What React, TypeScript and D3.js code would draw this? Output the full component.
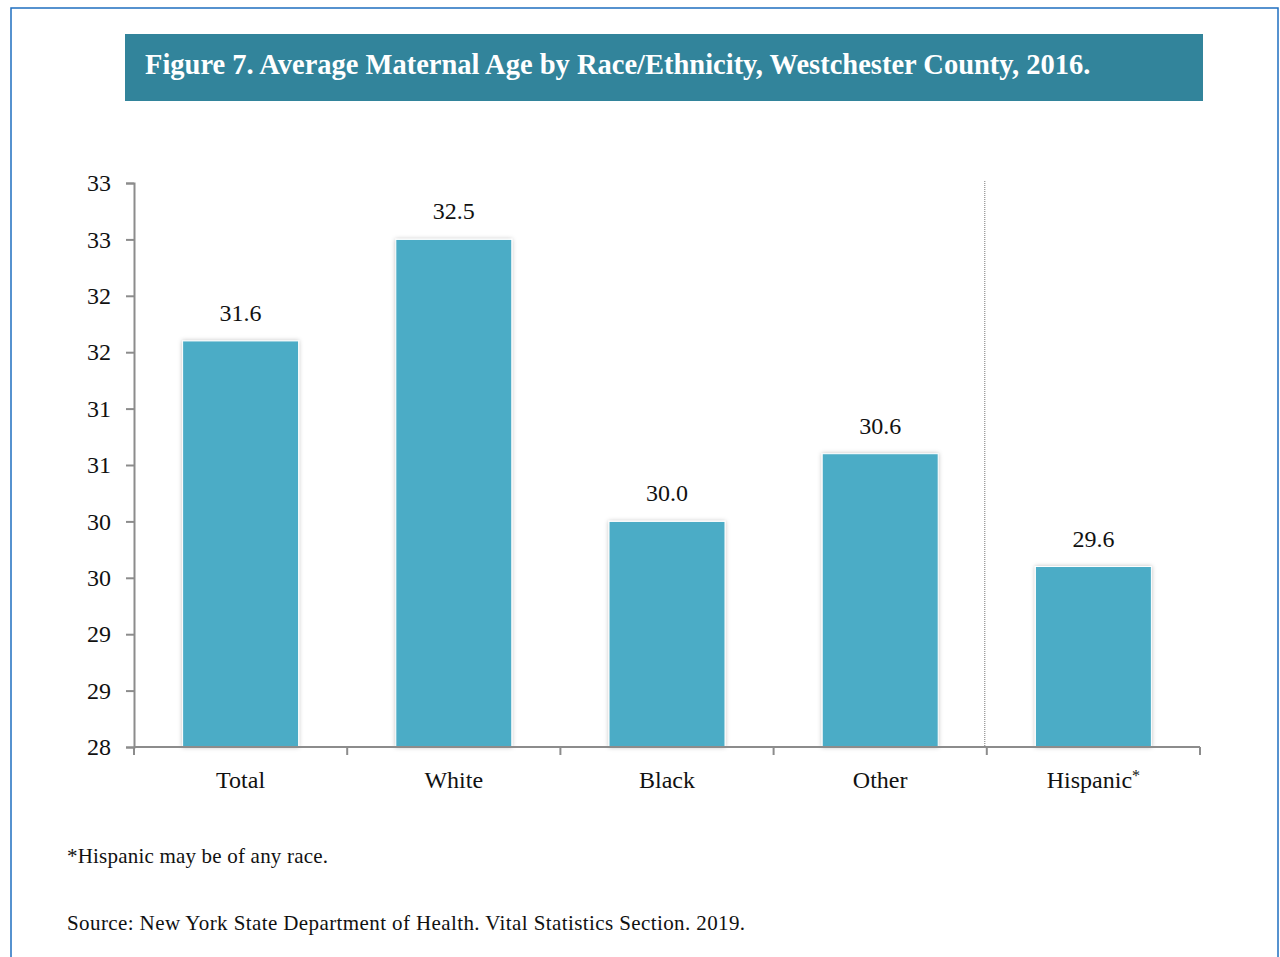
import React, { useRef, useEffect } from "react";
import * as d3 from "d3";

const categories = ["Total", "White", "Black", "Other", "Hispanic*"];
const values = [31.6, 32.5, 30.0, 30.6, 29.6];
const yTicks = [28, 28.5, 29, 29.5, 30, 30.5, 31, 31.5, 32, 32.5, 33];

const W = 1280;
const H = 957;
const plot = { left: 134, right: 1200, top: 183, bottom: 747 };
const font = "'Liberation Serif', 'DejaVu Serif', serif";

const App = () => {
    const canvas = useRef<SVGSVGElement | null>(null);

    useEffect(() => {
        const svg = d3.select(canvas.current);
        svg.selectAll("*").remove();

        const defs = svg.append("defs");
        const f = defs
            .append("filter")
            .attr("id", "shadow")
            .attr("x", "-10%")
            .attr("y", "-10%")
            .attr("width", "120%")
            .attr("height", "120%");
        f.append("feDropShadow")
            .attr("dx", 0)
            .attr("dy", 0)
            .attr("stdDeviation", 2)
            .attr("flood-color", "#000")
            .attr("flood-opacity", 0.25);

        // outer frame
        svg.append("rect")
            .attr("x", 11)
            .attr("y", 8)
            .attr("width", 1267)
            .attr("height", 1000)
            .attr("fill", "none")
            .attr("stroke", "#1f6fc0")
            .attr("stroke-width", 1.5);

        // title banner
        svg.append("rect")
            .attr("x", 125)
            .attr("y", 34)
            .attr("width", 1078)
            .attr("height", 67)
            .attr("fill", "#32849b");
        svg.append("text")
            .attr("x", 145)
            .attr("y", 74)
            .attr("fill", "#fff")
            .attr("font-family", font)
            .attr("font-size", 28.5)
            .attr("font-weight", "bold")
            .text("Figure 7. Average Maternal Age by Race/Ethnicity, Westchester County, 2016.");

        const x = d3
            .scaleBand()
            .domain(categories)
            .range([plot.left, plot.right])
            .paddingInner(0.456)
            .paddingOuter(0.228);
        const step = x.step();
        const y = d3.scaleLinear().domain([28, 33]).range([plot.bottom, plot.top]);

        const g = svg.append("g");

        // bars
        g.selectAll("rect.bar")
            .data(values)
            .enter()
            .append("rect")
            .attr("class", "bar")
            .attr("x", (d, i) => x(categories[i])!)
            .attr("y", (d) => y(d))
            .attr("width", x.bandwidth())
            .attr("height", (d) => y(28) - y(d))
            .attr("fill", "#4bacc6")
            .attr("stroke", "#ffffff")
            .attr("stroke-width", 1)
            .attr("filter", "url(#shadow)");

        // value labels
        g.selectAll("text.val")
            .data(values)
            .enter()
            .append("text")
            .attr("class", "val")
            .attr("x", (d, i) => x(categories[i])! + x.bandwidth() / 2)
            .attr("y", (d) => y(d) - 20)
            .attr("text-anchor", "middle")
            .attr("font-family", font)
            .attr("font-size", 24)
            .attr("fill", "#111")
            .text((d) => d3.format(".1f")(d));

        // divider before Hispanic
        const divX = plot.left + step * 4 - 2;
        g.append("line")
            .attr("x1", divX)
            .attr("x2", divX)
            .attr("y1", 181)
            .attr("y2", plot.bottom)
            .attr("stroke", "#777")
            .attr("stroke-width", 1)
            .attr("stroke-dasharray", "1,1");

        // y axis
        const yAxis = g
            .append("g")
            .attr("transform", `translate(${plot.left},0)`)
            .call(
                d3
                    .axisLeft(y)
                    .tickValues(yTicks)
                    .tickSize(8)
                    .tickPadding(15)
                    .tickFormat((d) => (+d).toFixed(0))
            );
        yAxis.select(".domain").attr("stroke", "#8c8c8c").attr("stroke-width", 2);
        yAxis.selectAll(".tick line").attr("stroke", "#8c8c8c").attr("stroke-width", 2);
        yAxis
            .selectAll(".tick text")
            .attr("font-family", font)
            .attr("font-size", 24)
            .attr("fill", "#111");

        // x axis
        const xAxis = g.append("g").attr("transform", `translate(0,${plot.bottom})`);
        xAxis
            .append("line")
            .attr("x1", plot.left)
            .attr("x2", plot.right)
            .attr("y1", 0)
            .attr("y2", 0)
            .attr("stroke", "#8c8c8c")
            .attr("stroke-width", 2);
        xAxis
            .selectAll("line.tick")
            .data(d3.range(categories.length + 1))
            .enter()
            .append("line")
            .attr("class", "tick")
            .attr("x1", (i) => plot.left + i * step)
            .attr("x2", (i) => plot.left + i * step)
            .attr("y1", 0)
            .attr("y2", 8)
            .attr("stroke", "#8c8c8c")
            .attr("stroke-width", 2);
        const labels = xAxis
            .selectAll("text")
            .data(categories)
            .enter()
            .append("text")
            .attr("x", (d) => x(d)! + x.bandwidth() / 2)
            .attr("y", 41)
            .attr("text-anchor", "middle")
            .attr("font-family", font)
            .attr("font-size", 24)
            .attr("fill", "#111");
        labels.append("tspan").text((d) => d.replace("*", ""));
        // superscript asterisk, as in the original
        labels
            .filter((d) => d.endsWith("*"))
            .append("tspan")
            .attr("dy", -7)
            .attr("font-size", 16)
            .text("*");

        // notes
        svg.append("text")
            .attr("x", 67)
            .attr("y", 863)
            .attr("font-family", font)
            .attr("font-size", 21)
            .attr("letter-spacing", 0.2)
            .attr("fill", "#111")
            .text("*Hispanic may be of any race.");
        svg.append("text")
            .attr("x", 67)
            .attr("y", 930)
            .attr("font-family", font)
            .attr("font-size", 21)
            .attr("letter-spacing", 0.4)
            .attr("fill", "#111")
            .text("Source: New York State Department of Health. Vital Statistics Section. 2019.");
    }, []);

    return (
        <svg
            ref={canvas}
            width={W}
            height={H}
            style={{ position: "absolute", left: 0, top: 0, background: "#fff" }}
        />
    );
};

export default App;
